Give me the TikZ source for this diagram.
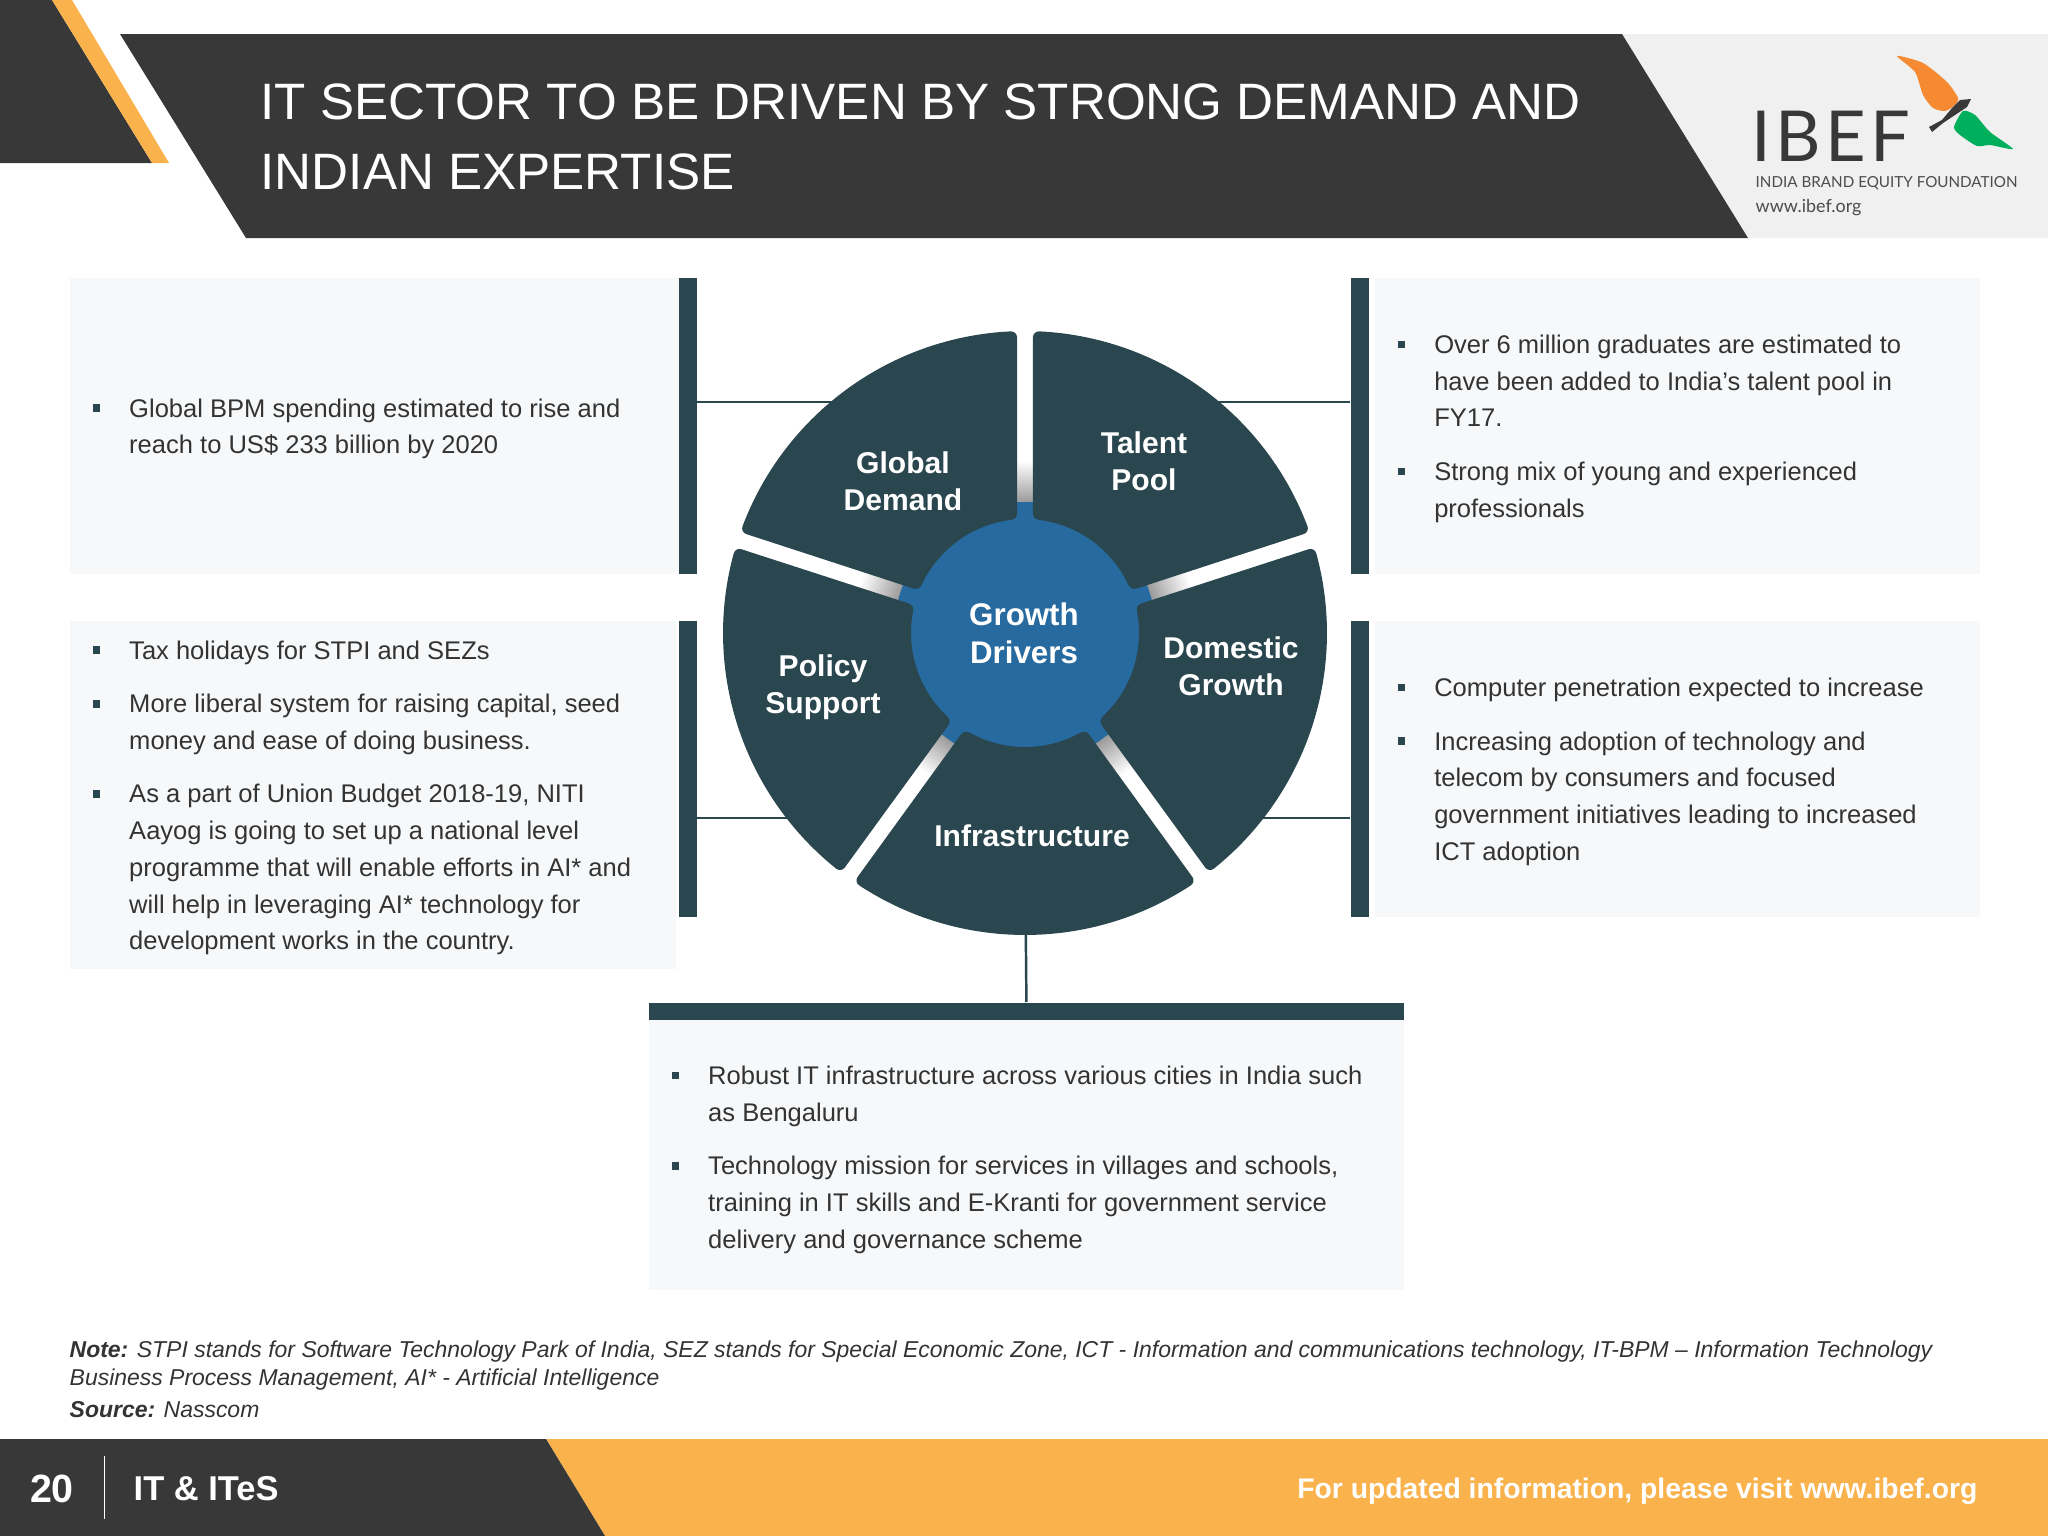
\documentclass[tikz,border=0pt]{standalone}
\usepackage{fontspec}
\setmainfont{Liberation Sans}
\newfontfamily\logofont[LetterSpace=6]{Lato}
\newfontfamily\logosmall{Lato}
\usetikzlibrary{calc}
\definecolor{darkgrey}{HTML}{383838}
\definecolor{sunorange}{HTML}{F9B24C}
\definecolor{wheelteal}{HTML}{2A464E}
\definecolor{hubblue}{HTML}{276A9F}
\definecolor{panelfill}{HTML}{F6F8FA}
\definecolor{logogrey}{HTML}{F0F0F0}
\definecolor{bodygrey}{HTML}{333333}
\definecolor{wingorange}{HTML}{F58A33}
\definecolor{winggreen}{HTML}{00AF5B}
\newcommand{\bulsq}{\leavevmode\llap{\textcolor{wheelteal}{\rule[0.2em]{2.2pt}{2.2pt}}\hspace{8.2pt}}}
\tikzset{
  panel/.style={fill=panelfill,inner sep=0pt,anchor=north west},
  barnode/.style={fill=wheelteal,inner sep=0pt,anchor=north west},
  bodytext/.style={anchor=west,xshift=.595cm,yshift=-.03cm,align=left,inner sep=0pt,text=bodygrey,
    font=\fontsize{7.26}{10.44}\selectfont},
  wheellabel/.style={align=center,text=white,inner sep=0pt,
    font=\fontsize{8.55}{10.5}\selectfont\bfseries},
  linkline/.style={draw=wheelteal,line width=.7pt},
  notetext/.style={anchor=west,inner sep=0pt,text=bodygrey,font=\fontsize{6.53}{8}\selectfont\itshape},
  segment/.style={fill=wheelteal,draw=wheelteal,line width=3.4pt,line join=round}
}
\begin{document}
\begin{tikzpicture}[x=0.01cm,y=-0.01cm]
\useasboundingbox (0,0) rectangle (2048,1536);
% header
\fill[darkgrey] (0,0) -- (52,0) -- (152,163) -- (0,163) -- cycle;
\fill[sunorange] (52,0) -- (72,0) -- (169,163) -- (152,163) -- cycle;
\fill[logogrey] (1622,34) -- (2048,34) -- (2048,238) -- (1748,238) -- cycle;
\fill[darkgrey] (120,34) -- (1622,34) -- (1748,238) -- (246,238) -- cycle;
\node[anchor=west,align=left,inner sep=0pt,text=white,font=\fontsize{14.55}{20}\selectfont] (title) at (260,137)
  {IT SECTOR TO BE DRIVEN BY STRONG DEMAND AND\\INDIAN EXPERTISE};
% logo
\fill[wingorange] plot[smooth cycle,tension=.4] coordinates {(1897,56) (1923,63) (1947,82) (1958,98) (1955,105) (1945,111) (1933,108) (1923,95) (1915,72)};
\fill[winggreen] plot[smooth cycle,tension=.4] coordinates {(1963,111) (1975,115) (1990,132) (2013,149) (1990,145) (1977,146) (1960,135) (1954,127)};
\fill[darkgrey] (1971,99) -- (1960,100) -- (1952,108) -- (1942,120) -- (1929,127) -- (1932,132) -- (1943,123) -- (1955,115) -- (1967,107) -- cycle;
\node[anchor=base west,inner sep=0pt,text=darkgrey,font=\fontsize{20}{20}\selectfont\logofont] (logoname) at (1751,161) {IBEF};
\node[anchor=west,inner sep=0pt,text=darkgrey!90,font=\fontsize{4.32}{5}\selectfont\logosmall] (logofull) at (1755,183) {INDIA BRAND EQUITY FOUNDATION};
\node[anchor=west,inner sep=0pt,text=darkgrey!90,font=\fontsize{5.1}{6}\selectfont\logosmall] (logoweb) at (1755,208) {www.ibef.org};
% panels and bars
\node[panel,minimum width=6.09cm,minimum height=2.96cm] (panelGlobal) at (69,277) {};
\node[panel,minimum width=6.06cm,minimum height=3.48cm] (panelPolicy) at (69,620) {};
\node[panel,minimum width=6.05cm,minimum height=2.96cm] (panelTalent) at (1374,277) {};
\node[panel,minimum width=6.05cm,minimum height=2.96cm] (panelDomestic) at (1374,620) {};
\node[panel,minimum width=7.55cm,minimum height=2.70cm] (panelInfra) at (648,1019) {};
\node[barnode,minimum width=.18cm,minimum height=2.96cm] (barGlobal) at (678,277) {};
\node[barnode,minimum width=.18cm,minimum height=2.96cm] (barPolicy) at (678,620) {};
\node[barnode,minimum width=.18cm,minimum height=2.96cm] (barTalent) at (1350,277) {};
\node[barnode,minimum width=.18cm,minimum height=2.96cm] (barDomestic) at (1350,620) {};
\node[barnode,minimum width=7.55cm,minimum height=.17cm] (barInfra) at (648,1002) {};
% connectors
\coordinate (hubGlobal) at (860,402);
\coordinate (hubPolicy) at (810,818);
\coordinate (hubTalent) at (1190,402);
\coordinate (hubDomestic) at (1240,818);
\coordinate (hubInfra) at (1025.5,900);
\draw[linkline] (barGlobal.east |- hubGlobal) -- (hubGlobal);
\draw[linkline] (barPolicy.east |- hubPolicy) -- (hubPolicy);
\draw[linkline] (barTalent.west |- hubTalent) -- (hubTalent);
\draw[linkline] (barDomestic.west |- hubDomestic) -- (hubDomestic);
\draw[linkline] (barInfra.north) -- (hubInfra);
% wheel
\foreach \a in {-90,-18,54,126,198}
  \shade[transform canvas={shift={(1025,633)},rotate=-\a},left color=black!50,right color=white]
    (120,-9) rectangle (172,9);
\fill[hubblue] (1025,633) circle (131);
\begin{scope}[shift={(1025,633)}]
\foreach \a/\b in {-90/-18,-18/54,54/126,126/198,198/270}
  \filldraw[segment] (\a+2.7:296)
    arc[start angle=\a+2.7,end angle=\b-2.7,radius=296]
    -- (\b-6.6:120)
    arc[start angle=\b-6.6,end angle=\a+6.6,radius=120]
    -- cycle;
\end{scope}
\node[wheellabel] (labelGlobal) at (903,481) {Global\\Demand};
\node[wheellabel] (labelTalent) at (1144,461) {Talent\\Pool};
\node[wheellabel] (labelPolicy) at (823,687) {Policy\\Support};
\node[wheellabel] (labelDomestic) at (1231,666) {Domestic\\Growth};
\node[wheellabel] (labelInfra) at (1032,836) {Infrastructure};
\node[wheellabel,font=\fontsize{8.9}{10.8}\selectfont\bfseries] (labelHub) at (1024,633) {Growth\\Drivers};
% panel text
\node[bodytext] (textGlobal) at (panelGlobal.west)
  {\bulsq Global BPM spending estimated to rise and\\reach to US\$ 233 billion by 2020};
\node[bodytext] (textPolicy) at (panelPolicy.west)
  {\bulsq Tax holidays for STPI and SEZs\\[4.8pt]
   \bulsq More liberal system for raising capital, seed\\money and ease of doing business.\\[4.8pt]
   \bulsq As a part of Union Budget 2018-19, NITI\\Aayog is going to set up a national level\\programme that will enable efforts in AI* and\\will help in leveraging AI* technology for\\development works in the country.};
\node[bodytext] (textTalent) at (panelTalent.west)
  {\bulsq Over 6 million graduates are estimated to\\have been added to India’s talent pool in\\FY17.\\[4.8pt]
   \bulsq Strong mix of young and experienced\\professionals};
\node[bodytext] (textDomestic) at (panelDomestic.west)
  {\bulsq Computer penetration expected to increase\\[4.8pt]
   \bulsq Increasing adoption of technology and\\telecom by consumers and focused\\government initiatives leading to increased\\ICT adoption};
\node[bodytext,yshift=-.02cm] (textInfra) at (panelInfra.west)
  {\bulsq Robust IT infrastructure across various cities in India such\\as Bengaluru\\[4.8pt]
   \bulsq Technology mission for services in villages and schools,\\training in IT skills and E-Kranti for government service\\delivery and governance scheme};
% notes
\node[notetext] (noteOne) at (69,1352) {\textbf{Note:} STPI stands for Software Technology Park of India, SEZ stands for Special Economic Zone, ICT - Information and communications technology, IT-BPM – Information Technology};
\node[notetext] (noteTwo) at (69,1380) {Business Process Management, AI* - Artificial Intelligence};
\node[notetext] (noteSource) at (69,1410) {\textbf{Source:} Nasscom};
% footer
\fill[sunorange] (546,1439) -- (2048,1439) -- (2048,1536) -- (605,1536) -- cycle;
\fill[darkgrey] (0,1439) -- (546,1439) -- (605,1536) -- (0,1536) -- cycle;
\coordinate (ruleTop) at (104.5,1456);
\coordinate (ruleEnd) at (104.5,1519);
\draw[white,line width=.5pt] (ruleTop) -- (ruleEnd);
\node[anchor=center,inner sep=0pt,text=white,font=\fontsize{11.2}{12}\selectfont\bfseries] (pagenum) at (52,1489) {20};
\node[anchor=west,inner sep=0pt,text=white,font=\fontsize{9.8}{11}\selectfont\bfseries] (sector) at (133,1489) {IT \& ITeS};
\node[anchor=east,inner sep=0pt,text=white,font=\fontsize{8.05}{10}\selectfont\bfseries] (visit) at (1978,1491) {For updated information, please visit www.ibef.org};
\end{tikzpicture}
\end{document}
